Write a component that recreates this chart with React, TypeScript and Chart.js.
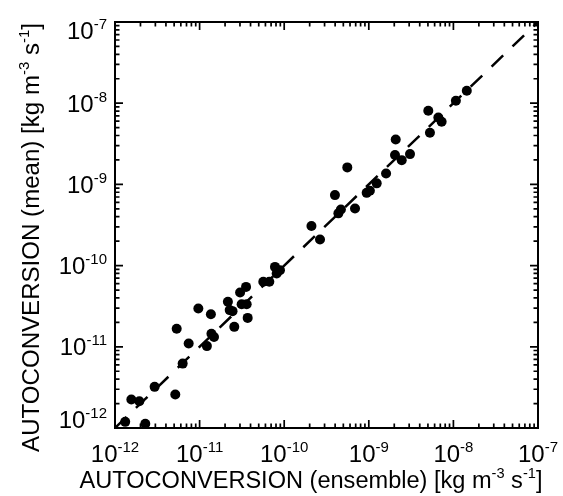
import React, { useEffect, useRef } from 'react';
import { Chart, registerables } from 'chart.js';

Chart.register(...registerables);

// ---- data ----
const ensembleValues = [
  1.32e-12, 2.28e-12, 1.56e-12, 1.94e-12, 2.94e-12, 5.16e-12, 5.36e-12, 6.31e-12, 7.43e-12, 1.22e-11,
  9.66e-12, 1.36e-11, 1.38e-11, 1.48e-11, 2.16e-11, 2.27e-11, 2.45e-11, 2.57e-11, 3.01e-11, 3.54e-11,
  3.14e-11, 3.6e-11, 3.7e-11, 5.66e-11, 6.67e-11, 7.78e-11, 8.15e-11, 8.91e-11, 2.1e-10, 2.65e-10,
  3.98e-10, 4.37e-10, 4.68e-10, 5.57e-10, 6.87e-10, 9.44e-10, 1.03e-9, 1.24e-9, 1.6e-9, 2.04e-9,
  2.08e-9, 2.45e-9, 3.07e-9, 5.05e-9, 5.28e-9, 6.64e-9, 7.26e-9, 1.07e-8, 1.44e-8,
];
const meanValues = [
  1.19e-12, 1.13e-12, 2.24e-12, 2.13e-12, 3.21e-12, 2.58e-12, 1.67e-11, 6.21e-12, 1.1e-11, 1.02e-11,
  2.96e-11, 2.52e-11, 1.45e-11, 1.32e-11, 3.58e-11, 2.83e-11, 2.75e-11, 1.76e-11, 4.67e-11, 5.47e-11,
  3.35e-11, 3.35e-11, 2.27e-11, 6.31e-11, 6.31e-11, 9.64e-11, 8.0e-11, 8.79e-11, 3.07e-10, 2.1e-10,
  7.38e-10, 4.4e-10, 4.9e-10, 1.62e-9, 5.06e-10, 7.87e-10, 8.34e-10, 1.03e-9, 1.36e-9, 2.3e-9,
  3.58e-9, 1.99e-9, 2.36e-9, 8.07e-9, 4.33e-9, 6.68e-9, 5.92e-9, 1.07e-8, 1.42e-8,
];
const oneToOneX = [1e-12, 1e-7];
const oneToOneY = [1e-12, 1e-7];

const axisMin = 1e-12;
const axisMax = 1e-7;
const tickValues = [1e-12, 1e-11, 1e-10, 1e-9, 1e-8, 1e-7];
const tickBase = '10';
const tickExponents = ['-12', '-11', '-10', '-9', '-8', '-7'];
const minorMultipliers = [2, 3, 4, 5, 6, 7, 8, 9];

type Seg = [string, boolean];
const xTitle: Seg[] = [
  ['AUTOCONVERSION (ensemble) [kg m', false],
  ['-3', true],
  [' s', false],
  ['-1', true],
  [']', false],
];
const yTitle: Seg[] = [
  ['AUTOCONVERSION (mean) [kg m', false],
  ['-3', true],
  [' s', false],
  ['-1', true],
  [']', false],
];

const FONT = '"Liberation Sans", Arial, sans-serif';

function measureRich(ctx: CanvasRenderingContext2D, segs: Seg[], size: number) {
  let w = 0;
  for (const [t, sup] of segs) {
    ctx.font = `${sup ? size * 0.62 : size}px ${FONT}`;
    w += ctx.measureText(t).width;
  }
  return w;
}

function drawRich(ctx: CanvasRenderingContext2D, segs: Seg[], size: number) {
  let x = 0;
  for (const [t, sup] of segs) {
    ctx.font = `${sup ? size * 0.62 : size}px ${FONT}`;
    ctx.fillText(t, x, sup ? -size * 0.42 : 0);
    x += ctx.measureText(t).width;
  }
}

const idlFramePlugin = {
  id: 'idlFrame',
  afterDraw(chart: any) {
    const { ctx, chartArea: a, scales } = chart;
    const xs = scales.x;
    const ys = scales.y;
    ctx.save();
    ctx.strokeStyle = '#000';
    ctx.fillStyle = '#000';
    ctx.lineWidth = 2;
    ctx.strokeRect(a.left, a.top, a.right - a.left, a.bottom - a.top);

    // tick marks on all four sides, pointing inward
    const majorLen = 8;
    const minorLen = 4.5;
    ctx.lineWidth = 1.7;
    ctx.beginPath();
    const marks: [number, number][] = [];
    tickValues.forEach((v, i) => {
      marks.push([v, majorLen]);
      if (i < tickValues.length - 1) minorMultipliers.forEach((m) => marks.push([v * m, minorLen]));
    });
    for (const [v, len] of marks) {
      const px = xs.getPixelForValue(v);
      ctx.moveTo(px, a.bottom);
      ctx.lineTo(px, a.bottom - len);
      ctx.moveTo(px, a.top);
      ctx.lineTo(px, a.top + len);
      const py = ys.getPixelForValue(v);
      ctx.moveTo(a.left, py);
      ctx.lineTo(a.left + len, py);
      ctx.moveTo(a.right, py);
      ctx.lineTo(a.right - len, py);
    }
    ctx.stroke();

    // tick labels 10^n
    ctx.textBaseline = 'alphabetic';
    ctx.textAlign = 'left';
    const mainSize = 24;
    const supSize = 15;
    const supRaise = 10;
    const half = 8.5;
    tickValues.forEach((v, i) => {
      ctx.font = `${mainSize}px ${FONT}`;
      const wb = ctx.measureText(tickBase).width;
      ctx.font = `${supSize}px ${FONT}`;
      const we = ctx.measureText(tickExponents[i]).width;
      const w = wb + we;
      // x axis
      const px = xs.getPixelForValue(v);
      let x0 = px - w / 2;
      let base = a.bottom + 34;
      ctx.font = `${mainSize}px ${FONT}`;
      ctx.fillText(tickBase, x0, base);
      ctx.font = `${supSize}px ${FONT}`;
      ctx.fillText(tickExponents[i], x0 + wb, base - supRaise);
      // y axis
      const py = ys.getPixelForValue(v);
      const cy = Math.min(Math.max(py, a.top + half), a.bottom - half);
      x0 = a.left - 8 - w;
      base = cy + half;
      ctx.font = `${mainSize}px ${FONT}`;
      ctx.fillText(tickBase, x0, base);
      ctx.font = `${supSize}px ${FONT}`;
      ctx.fillText(tickExponents[i], x0 + wb, base - supRaise);
    });

    // axis titles
    const xw24 = measureRich(ctx, xTitle, 24);
    const xSize = (24 * 463) / xw24;
    const xw = measureRich(ctx, xTitle, xSize);
    ctx.save();
    ctx.translate((a.left + a.right) / 2 - 15.5 - xw / 2, a.bottom + 60);
    drawRich(ctx, xTitle, xSize);
    ctx.restore();

    const yw24 = measureRich(ctx, yTitle, 24);
    const ySize = (24 * 429) / yw24;
    const yw = measureRich(ctx, yTitle, ySize);
    ctx.save();
    ctx.translate(a.left - 76, (a.top + a.bottom) / 2 + 12.5 + yw / 2);
    ctx.rotate(-Math.PI / 2);
    drawRich(ctx, yTitle, ySize);
    ctx.restore();

    ctx.restore();
  },
};

export default function App() {
  const canvasRef = useRef<HTMLCanvasElement | null>(null);

  useEffect(() => {
    const canvas = canvasRef.current;
    if (!canvas) return;
    const points = ensembleValues.map((x, i) => ({ x, y: meanValues[i] }));
    const line = oneToOneX.map((x, i) => ({ x, y: oneToOneY[i] }));
    const chart = new Chart(canvas, {
      type: 'scatter',
      data: {
        datasets: [
          {
            type: 'line',
            data: line,
            borderColor: '#000',
            borderWidth: 2.5,
            borderDash: [16, 13],
            pointRadius: 0,
            fill: false,
          } as any,
          {
            type: 'scatter',
            data: points,
            backgroundColor: '#000',
            borderWidth: 0,
            pointRadius: 5,
            pointHoverRadius: 5,
          },
        ],
      },
      options: {
        responsive: false,
        devicePixelRatio: 1,
        animation: false,
        events: [],
        layout: { padding: { left: 0, top: 22, right: 25, bottom: 0 } },
        plugins: {
          legend: { display: false },
          tooltip: { enabled: false },
          title: { display: false },
        },
        scales: {
          x: {
            type: 'logarithmic',
            min: axisMin,
            max: axisMax,
            ticks: { display: false },
            grid: { display: false },
            border: { display: false },
            afterFit: (s: any) => {
              s.height = 68;
            },
          },
          y: {
            type: 'logarithmic',
            min: axisMin,
            max: axisMax,
            ticks: { display: false },
            grid: { display: false },
            border: { display: false },
            afterFit: (s: any) => {
              s.width = 115;
            },
          },
        },
      },
      plugins: [idlFramePlugin],
    });
    return () => chart.destroy();
  }, []);

  return (
    <div style={{ position: 'fixed', left: 0, top: 0, width: 563, height: 496, background: '#fff' }}>
      <canvas ref={canvasRef} width={563} height={496} style={{ display: 'block' }} />
    </div>
  );
}
